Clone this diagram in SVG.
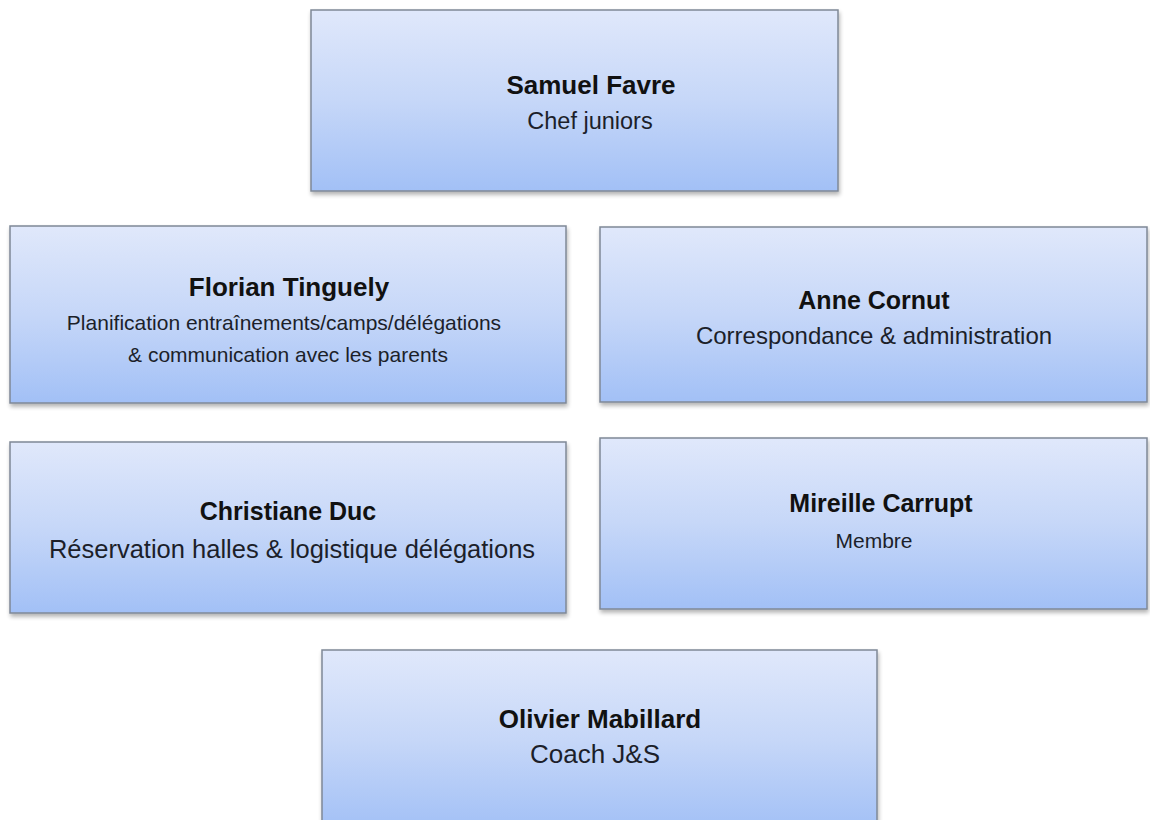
<svg xmlns="http://www.w3.org/2000/svg" width="1150" height="820" viewBox="0 0 1150 820">
<defs>
<linearGradient id="g" x1="0" y1="0" x2="0" y2="1">
<stop offset="0" stop-color="#e0e8fb"/>
<stop offset="0.5" stop-color="#c6d7f8"/>
<stop offset="1" stop-color="#a2c0f6"/>
</linearGradient>
<filter id="sh" x="-5%" y="-5%" width="112%" height="115%">
<feGaussianBlur in="SourceAlpha" stdDeviation="2"/>
<feOffset dx="1" dy="3" result="b"/>
<feComponentTransfer><feFuncA type="linear" slope="0.3"/></feComponentTransfer>
<feMerge><feMergeNode/><feMergeNode in="SourceGraphic"/></feMerge>
</filter>
</defs>
<style>
.box{fill:url(#g);stroke:#7f8896;stroke-width:1.5;filter:url(#sh)}
.t{font-family:"Liberation Sans",Arial,sans-serif;font-weight:bold;fill:#111;text-anchor:middle}
.s{font-family:"Liberation Sans",Arial,sans-serif;fill:#1c1f2a;text-anchor:middle}
</style>
<rect width="1150" height="820" fill="#fff"/>
<g id="connectors"/>
<g id="samuel">
<rect class="box" x="311" y="10" width="527" height="181"/>
<text class="t" x="591" y="94" font-size="26">Samuel Favre</text>
<text class="s" x="590" y="129" font-size="23.5">Chef juniors</text>
</g>
<g id="florian">
<rect class="box" x="10" y="226" width="556" height="177"/>
<text class="t" x="289" y="296" font-size="26">Florian Tinguely</text>
<text class="s" x="284" y="330" font-size="21">Planification entraînements/camps/délégations</text>
<text class="s" x="288" y="362" font-size="21">&amp; communication avec les parents</text>
</g>
<g id="anne">
<rect class="box" x="600" y="227" width="547" height="175"/>
<text class="t" x="874" y="309" font-size="25">Anne Cornut</text>
<text class="s" x="874" y="344" font-size="24">Correspondance &amp; administration</text>
</g>
<g id="christiane">
<rect class="box" x="10" y="442" width="556" height="171"/>
<text class="t" x="288" y="520" font-size="25">Christiane Duc</text>
<text class="s" x="292" y="558" font-size="25.5">Réservation halles &amp; logistique délégations</text>
</g>
<g id="mireille">
<rect class="box" x="600" y="438" width="547" height="171"/>
<text class="t" x="881" y="512" font-size="25">Mireille Carrupt</text>
<text class="s" x="874" y="548" font-size="21">Membre</text>
</g>
<g id="olivier">
<rect class="box" x="322" y="650" width="555" height="180"/>
<text class="t" x="600" y="728" font-size="26">Olivier Mabillard</text>
<text class="s" x="595" y="763" font-size="26">Coach J&amp;S</text>
</g>
</svg>
